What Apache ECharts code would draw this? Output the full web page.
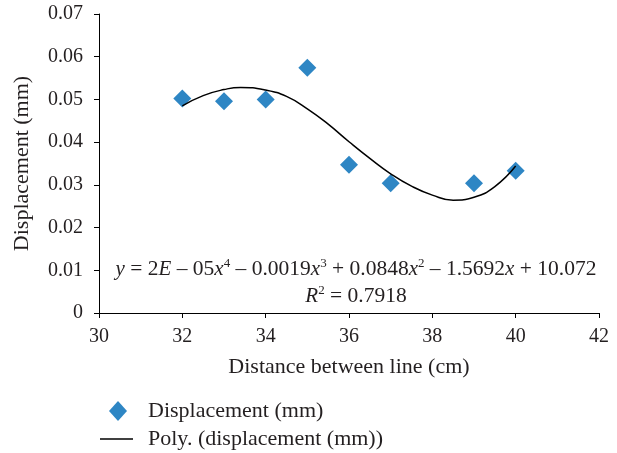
<!DOCTYPE html>
<html><head><meta charset="utf-8">
<script src="https://cdn.jsdelivr.net/npm/echarts@6/dist/echarts.min.js"></script>
<style>html,body{margin:0;padding:0;background:#fff}#c{width:617px;height:453px}</style>
</head><body><div id="c"></div>
<script>
// Data
const distance = [32, 33, 34, 35, 36, 37, 39, 40];
const displacement = [0.0502, 0.0496, 0.0500, 0.0574, 0.0347, 0.0304, 0.0304, 0.0333];
// Trend line (poly. order 4) points
const trendX = [32, 32.5, 33, 33.4, 34, 34.5, 35, 35.5, 36, 36.5, 37, 37.5, 38, 38.5, 39, 39.5, 40];
const trendY = [0.0485, 0.0509, 0.0523, 0.0528, 0.0522, 0.0507, 0.0478, 0.0442, 0.0401, 0.0362, 0.0326, 0.0297, 0.0276, 0.0264, 0.0271, 0.0296, 0.0344];
const xTicks = {min: 30, max: 42, interval: 2};
const yTicks = {min: 0, max: 0.07, interval: 0.01};
const seriesNames = ['Displacement (mm)', 'Poly. (displacement (mm))'];
const xTitle = 'Distance between line (cm)';
const yTitle = 'Displacement (mm)';

const FONT = '"Liberation Serif", "DejaVu Serif", serif';
const FS = 20;
const FT = 22;
const TXT = '#231F20';
const chart = echarts.init(document.getElementById('c'), null, {renderer: 'canvas'});
const axisCommon = {
  axisLine: {show: true, lineStyle: {color: '#000', width: 1}},
  axisTick: {show: true, inside: false, length: 5, lineStyle: {color: '#000'}},
  splitLine: {show: false},
  axisLabel: {color: TXT, fontFamily: FONT, fontSize: FS},
  nameTextStyle: {color: TXT, fontFamily: FONT, fontSize: FT}
};
const rich = {
  i: {fontStyle: 'italic', fontFamily: FONT, fontSize: 21, fill: TXT},
  s: {fontSize: 13, fontFamily: FONT, verticalAlign: 'top', padding: [0, 0, 11, 0], fill: TXT}
};
chart.setOption({
  animation: false,
  grid: {left: 99, right: 18, top: 14, bottom: 140, containLabel: false},
  xAxis: Object.assign({}, axisCommon, {
    type: 'value', min: xTicks.min, max: xTicks.max, interval: xTicks.interval,
    name: xTitle, nameLocation: 'middle', nameGap: 43,
    axisLabel: Object.assign({}, axisCommon.axisLabel, {margin: 14})
  }),
  yAxis: Object.assign({}, axisCommon, {
    type: 'value', min: yTicks.min, max: yTicks.max, interval: yTicks.interval,
    name: yTitle, nameLocation: 'middle', nameGap: 66, nameRotate: 90,
    axisLabel: Object.assign({}, axisCommon.axisLabel, {margin: 16, formatter: v => v === 0 ? '0' : v.toFixed(2)})
  }),
  legend: [
    {data: [{name: seriesNames[0], icon: 'diamond'}], orient: 'vertical', left: 109, top: 400, padding: 0,
     itemWidth: 18, itemHeight: 20,
     textStyle: {fontFamily: FONT, fontSize: FT, color: TXT, padding: [0, 0, 0, 16]}},
    {data: [{name: seriesNames[1], icon: 'rect'}], orient: 'vertical', left: 100, top: 428, padding: 0,
     itemWidth: 33, itemHeight: 1.5,
     itemStyle: {color: '#000'},
     textStyle: {fontFamily: FONT, fontSize: FT, color: TXT, padding: [0, 0, 0, 10]}}
  ],
  graphic: [
    {type: 'text', x: 356, y: 269,
     style: {
       text: '{i|y} = 2{i|E} – 05{i|x}{s|4} – 0.0019{i|x}{s|3} + 0.0848{i|x}{s|2} – 1.5692{i|x} + 10.072',
       font: '21.5px ' + FONT, fill: TXT, align: 'center', verticalAlign: 'middle', rich: rich
     }},
    {type: 'text', x: 356, y: 296,
     style: {
       text: '{i|R}{s|2} = 0.7918',
       font: '21.5px ' + FONT, fill: TXT, align: 'center', verticalAlign: 'middle', rich: rich
     }}
  ],
  series: [
    {name: seriesNames[1], type: 'line', smooth: 0.5, showSymbol: false, symbol: 'none',
     data: trendX.map((x, i) => [x, trendY[i]]),
     lineStyle: {color: '#000', width: 1.5}, itemStyle: {color: '#000'}, z: 3},
    {name: seriesNames[0], type: 'scatter', symbol: 'diamond', symbolSize: 18,
     data: distance.map((x, i) => [x, displacement[i]]),
     itemStyle: {color: '#2E86C4', opacity: 1}, z: 2}
  ]
});
</script></body></html>
